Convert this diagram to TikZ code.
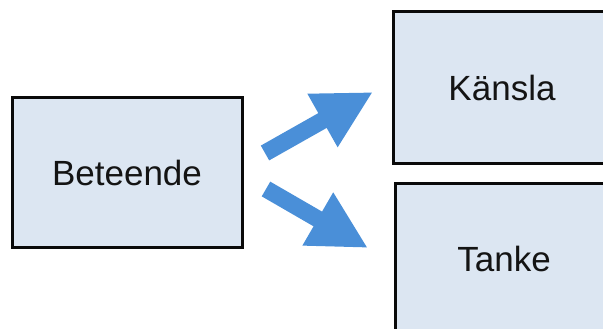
\documentclass[tikz,border=0pt]{standalone}
\usepackage{fontspec}
\setmainfont{Liberation Sans}
\usetikzlibrary{arrows.meta}
\definecolor{boxfill}{HTML}{DCE6F2}
\definecolor{arrowblue}{HTML}{4A8FD8}
\definecolor{edge}{HTML}{0A0A0A}
\tikzset{
  boxnode/.style={draw=edge, line width=3pt, fill=boxfill, rectangle, inner sep=0pt,
    font=\fontsize{35}{40}\selectfont, text=black!92},
  fatarrow/.style={draw=arrowblue, line width=17pt, -{Triangle[length=58pt,width=57pt]}}
}
\begin{document}
\begin{tikzpicture}[x=1pt,y=-1pt]
\useasboundingbox (0,0) rectangle (603,329);
\clip (0,0) rectangle (603,329);
\node[boxnode, minimum width=230pt, minimum height=149pt] (beteende) at (127,172.5) {Beteende};
\node[boxnode, minimum width=218pt, minimum height=151pt] (kansla) at (502,87.5) {Känsla};
\node[boxnode, minimum width=218pt, minimum height=152pt] (tanke) at (504,259) {Tanke};
\coordinate (a1s) at (265,153);
\coordinate (a1e) at (373,92);
\coordinate (a2s) at (266,189);
\coordinate (a2e) at (368,248);
\draw[fatarrow] (a1s) -- (a1e);
\draw[fatarrow] (a2s) -- (a2e);
\end{tikzpicture}
\end{document}
